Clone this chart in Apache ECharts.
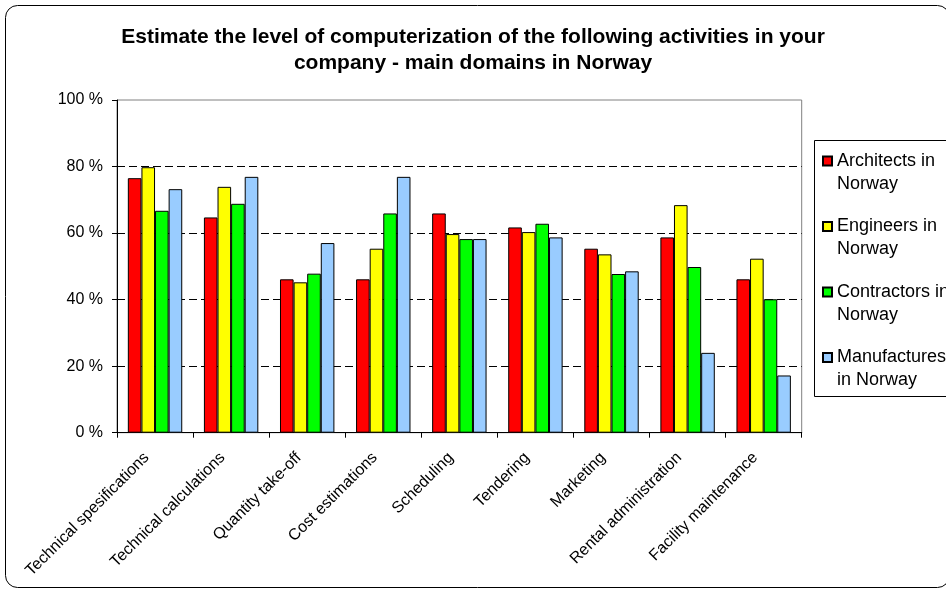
<!DOCTYPE html>
<html>
<head>
<meta charset="utf-8">
<script src="https://cdn.jsdelivr.net/npm/echarts@6/dist/echarts.min.js"></script>
<style>
html,body{margin:0;padding:0;background:#fff;}
#chart{width:946px;height:591px;}
</style>
</head>
<body>
<div id="chart"></div>
<script>
var titleText = 'Estimate the level of computerization of the following activities in your\ncompany - main domains in Norway';
var categories = ['Technical spesifications','Technical calculations','Quantity take-off','Cost estimations','Scheduling','Tendering','Marketing','Rental administration','Facility maintenance'];
var seriesNames = ['Architects in\nNorway','Engineers in\nNorway','Contractors in\nNorway','Manufactures\nin Norway'];
var architects   = [76.5, 64.7, 46.1, 46.1, 65.9, 61.7, 55.3, 58.7, 46.1];
var engineers    = [79.8, 73.9, 45.2, 55.3, 59.7, 60.3, 53.6, 68.4, 52.3];
var contractors  = [66.7, 68.8, 47.8, 65.9, 58.2, 62.8, 47.7, 49.8, 40.1];
var manufactures = [73.2, 76.9, 57.0, 76.9, 58.2, 58.7, 48.5, 24.0, 17.2];
var yTicks = [0, 20, 40, 60, 80, 100];
var colors = ['#FF0000','#FFFF00','#00FF00','#99CCFF'];

var FONT = "'Liberation Sans', Arial, sans-serif";
var chart = echarts.init(document.getElementById('chart'), null, {renderer:'canvas'});
var values = [architects, engineers, contractors, manufactures];
var series = seriesNames.map(function(n, i){
  return {
    name: n, type: 'bar', data: values[i],
    barWidth: 13.6, barGap: '0%',
    itemStyle: {color: colors[i], borderColor: '#000', borderWidth: 1},
    emphasis: {disabled: true},
    animation: false
  };
});
chart.setOption({
  animation: false,
  textStyle: {fontFamily: FONT},
  title: {
    text: titleText, left: 'center', top: 24, padding: 0,
    textStyle: {fontFamily: FONT, fontSize: 21, fontWeight: 'bold', color: '#000', lineHeight: 26}
  },
  graphic: [
    {type: 'rect', shape: {x: 5.5, y: 5.5, width: 944, height: 582, r: 12}, style: {fill: 'none', stroke: '#000', lineWidth: 1}, z: -1, silent: true},
    {type: 'rect', shape: {x: 814.5, y: 140.5, width: 200, height: 256}, style: {fill: 'none', stroke: '#000', lineWidth: 1}, silent: true}
  ],
  legend: {
    orient: 'vertical', left: 822, top: 126.5, padding: 0,
    itemWidth: 9, itemHeight: 9, itemGap: -3.5,
    icon: 'rect',
    selectedMode: false,
    formatter: function(name){ return '\n' + name; },
    textStyle: {fontFamily: FONT, fontSize: 18, color: '#000', lineHeight: 23},
    data: seriesNames
  },
  grid: {left: 117, right: 144.3, top: 100, bottom: 158.3, show: true, borderColor: '#808080', borderWidth: 1, containLabel: false},
  xAxis: {
    type: 'category', data: categories,
    axisLine: {lineStyle: {color: '#000', width: 1}},
    axisTick: {show: true, length: 5, lineStyle: {color: '#000'}},
    axisLabel: {rotate: 45, fontSize: 16, color: '#000', fontFamily: FONT, margin: 14, padding: [0, 12, 0, 0], interval: 0}
  },
  yAxis: {
    type: 'value', min: yTicks[0], max: yTicks[yTicks.length-1], interval: 20,
    axisLine: {show: true, lineStyle: {color: '#000', width: 1}},
    axisTick: {show: true, length: 5, lineStyle: {color: '#000'}},
    axisLabel: {fontSize: 16, color: '#000', fontFamily: FONT, margin: 14, formatter: '{value} %'},
    splitLine: {show: true, showMaxLine: false, lineStyle: {color: '#000', type: [8, 4], width: 1}}
  },
  series: series
});
</script>
</body>
</html>
